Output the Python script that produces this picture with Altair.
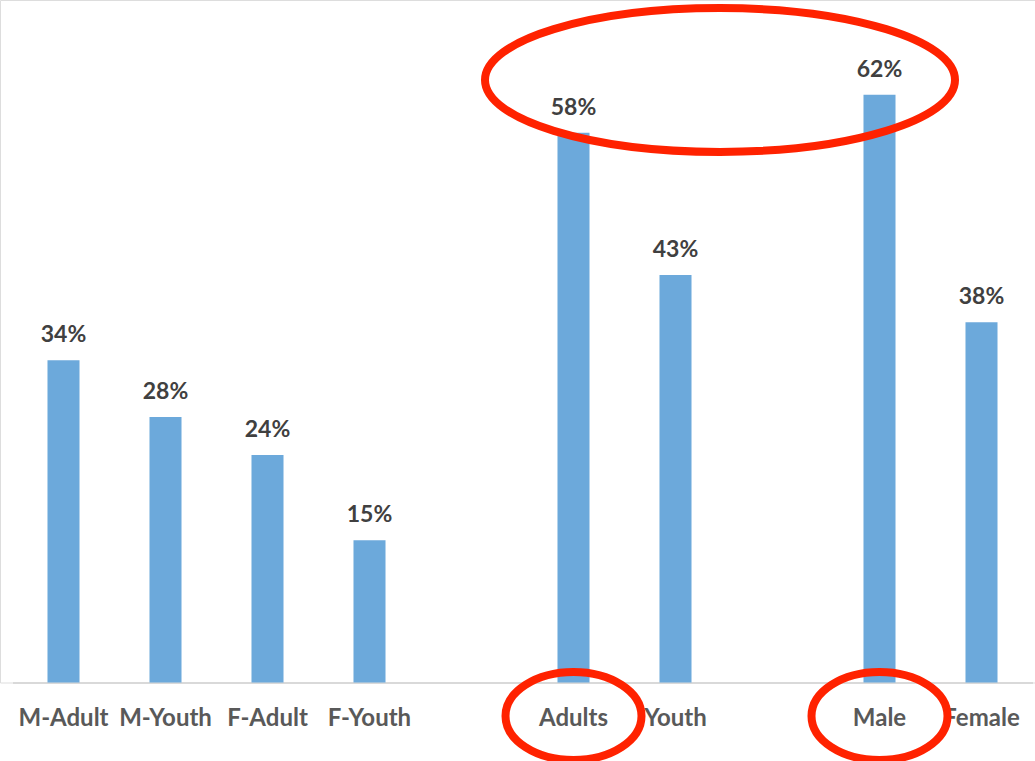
import altair as alt
import pandas as pd

categories = ["M-Adult", "M-Youth", "F-Adult", "F-Youth", "Adults", "Youth", "Male", "Female"]
values = [34, 28, 24, 15, 58, 43, 62, 38]
axis_domain = ["M-Adult", "M-Youth", "F-Adult", "F-Youth", " ", "Adults", "Youth", "  ", "Male", "Female"]
circled_labels = ["Adults", "Male"]

df = pd.DataFrame({"cat": categories, "value": values})
df["label"] = [f"{v}%" for v in values]
circ = pd.DataFrame({"cat": circled_labels})

FONT = "Lato"
xscale = alt.Scale(domain=axis_domain, range=[12.5, 1032.5], paddingInner=0.686, paddingOuter=0.343)
x = alt.X("cat:N", sort=axis_domain, scale=xscale,
          axis=alt.Axis(title=None, labelAngle=0, ticks=False, grid=False,
                        domainColor="#D9D9D9", domainWidth=2,
                        labelFont=FONT, labelFontSize=24, labelFontWeight="bold",
                        labelColor="#595959", labelPadding=36, labelBaseline="middle"))
y = alt.Y("value:Q", scale=alt.Scale(domain=[0, 72], nice=False, zero=True), axis=None)

bars = alt.Chart(df).mark_bar(color="#6CA9DB").encode(x=x, y=y)
texts = alt.Chart(df).mark_text(font=FONT, fontSize=23, fontWeight="bold", color="#404040",
                                baseline="alphabetic", dy=-18).encode(x=x, y=y, text="label:N")

big_ellipse = "M -1 0 A 1 0.306 0 1 1 1 0 A 1 0.306 0 1 1 -1 0 Z"
small_ellipse = "M -1 0 A 1 0.647 0 1 1 1 0 A 1 0.647 0 1 1 -1 0 Z"

top_ring = alt.Chart(pd.DataFrame({"a": [1]})).mark_point(
    shape=big_ellipse, size=470 * 470, filled=False, stroke="#FF2200", strokeWidth=8, opacity=1
).encode(x=alt.value(720), y=alt.value(80))

label_rings = alt.Chart(circ).mark_point(
    shape=small_ellipse, size=136 * 136, filled=False, stroke="#FF2200", strokeWidth=8, opacity=1
).encode(x=x, y=alt.value(716))

chart = alt.layer(bars, texts, top_ring, label_rings).properties(
    width=1035, height=682.5,
    padding={"left": 0, "top": 0, "right": 0, "bottom": 78.5},
    autosize=alt.AutoSizeParams(type="none")
).configure_view(stroke="transparent", strokeWidth=0).configure(background="white")

chart.save("out.html", embed_options={"renderer": "svg", "actions": False})
